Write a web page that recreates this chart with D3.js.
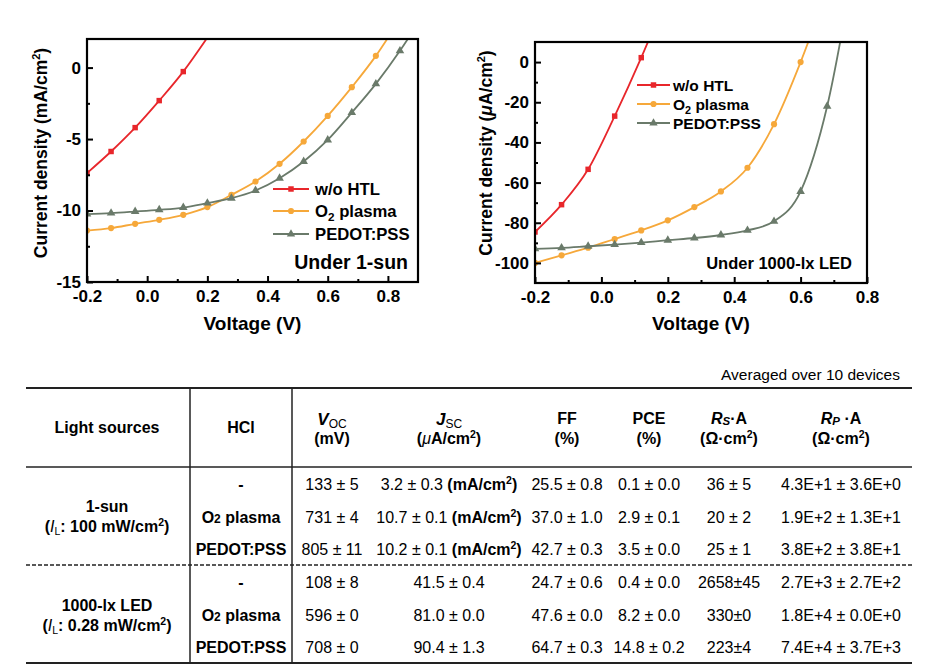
<!DOCTYPE html>
<html><head><meta charset="utf-8">
<script src="https://cdn.jsdelivr.net/npm/d3@7"></script>
<style>body{margin:0;background:#fff} text{font-family:Arial,"Liberation Sans",sans-serif}</style>
</head><body><svg id="c" width="936" height="667"></svg>
<script>
// ---------- DATA ----------
const voltages = [-0.2,-0.12,-0.04,0.04,0.12,0.2,0.28,0.36,0.44,0.52,0.6,0.68,0.76,0.84,0.92];
const seriesNames = ["w/o HTL","O2 plasma","PEDOT:PSS"];
// 1-sun (mA/cm2)
const sunWoHTL = [-7.38,-5.87,-4.2,-2.31,-0.28,2.1];
const sunO2 = [-11.4,-11.23,-10.93,-10.65,-10.3,-9.76,-8.9,-7.97,-6.73,-5.17,-3.38,-1.37,0.82,3.4];
const sunPEDOT = [-10.25,-10.18,-10.07,-9.95,-9.79,-9.48,-9.14,-8.6,-7.74,-6.57,-5.06,-3.15,-1.14,1.17,3.8];
// 1000-lx LED (uA/cm2)
const ledWoHTL = [-84.6,-71.0,-53.4,-26.9,2.2,34];
const ledO2 = [-100,-96.2,-92.4,-88.1,-83.8,-78.8,-72.2,-64.4,-52.6,-30.9,0,36];
const ledPEDOT = [-93.0,-92.5,-91.7,-90.9,-89.9,-88.7,-87.6,-86.1,-83.8,-79.3,-64.4,-22,48];
const sunXTicks = [-0.2,0.0,0.2,0.4,0.6,0.8];
const sunYTicks = [-15,-10,-5,0];
const ledXTicks = [-0.2,0.0,0.2,0.4,0.6,0.8];
const ledYTicks = [-100,-80,-60,-40,-20,0];

// table
const lightSources = ["1-sun","1000-lx LED"];
const lightIntensity = ["100 mW/cm","0.28 mW/cm"];
const hclLabels = ["-","O2 plasma","PEDOT:PSS","-","O2 plasma","PEDOT:PSS"];
const vocVals = ["133 ± 5","731 ± 4","805 ± 11","108 ± 8","596 ± 0","708 ± 0"];
const jscVals = ["3.2 ± 0.3","10.7 ± 0.1","10.2 ± 0.1","41.5 ± 0.4","81.0 ± 0.0","90.4 ± 1.3"];
const jscUnits = ["mA/cm","mA/cm","mA/cm","","",""];
const ffVals = ["25.5 ± 0.8","37.0 ± 1.0","42.7 ± 0.3","24.7 ± 0.6","47.6 ± 0.0","64.7 ± 0.3"];
const pceVals = ["0.1 ± 0.0","2.9 ± 0.1","3.5 ± 0.0","0.4 ± 0.0","8.2 ± 0.0","14.8 ± 0.2"];
const rsVals = ["36 ± 5","20 ± 2","25 ± 1","2658±45","330±0","223±4"];
const rpVals = ["4.3E+1 ± 3.6E+0","1.9E+2 ± 1.3E+1","3.8E+2 ± 3.8E+1","2.7E+3 ± 2.7E+2","1.8E+4 ± 0.0E+0","7.4E+4 ± 3.7E+3"];

// ---------- STYLE ----------
const colors = ["#e8262b","#f6a83a","#6a7a6a"];
const symbols = [d3.symbolSquare, d3.symbolCircle, d3.symbolTriangle];
const svg = d3.select("#c");
svg.append("rect").attr("width",936).attr("height",667).attr("fill","#fff");
const hyph = f => d => f(d).replace("−","-");

function drawPanel(o){
  const g = svg.append("g");
  const x = d3.scaleLinear().domain(o.xDomain).range([o.x0,o.x1]);
  const y = d3.scaleLinear().domain(o.yDomain).range([o.y1,o.y0]);
  const clipId = "clip"+o.id;
  svg.append("clipPath").attr("id",clipId).append("rect")
    .attr("x",o.x0).attr("y",o.y0).attr("width",o.x1-o.x0).attr("height",o.y1-o.y0);
  const plot = g.append("g").attr("clip-path",`url(#${clipId})`);
  const line = d3.line().x(d=>x(d[0])).y(d=>y(d[1])).curve(d3.curveMonotoneX);
  o.series.forEach((s,i)=>{
    const pts = s.map((v,k)=>[voltages[k],v]);
    plot.append("path").attr("d",line(pts)).attr("fill","none")
      .attr("stroke",colors[i]).attr("stroke-width",1.8);
    plot.selectAll(null).data(pts.filter(p=>p[1]<=o.yDomain[1] && p[0]<=o.xDomain[1])).join("path")
      .attr("transform",p=>`translate(${x(p[0])},${y(p[1])})`)
      .attr("d",d3.symbol().type(symbols[i]).size(i===2?32:30))
      .attr("fill",colors[i]);
  });
  // axes
  const ax = g.append("g").attr("transform",`translate(0,${o.y1})`)
    .call(d3.axisBottom(x).tickValues(o.xTicks).tickSize(-6).tickPadding(6).tickFormat(hyph(d3.format(".1f"))));
  const axm = g.append("g").attr("transform",`translate(0,${o.y1})`)
    .call(d3.axisBottom(x).tickValues(o.xMinor).tickSize(-3).tickFormat(""));
  const ay = g.append("g").attr("transform",`translate(${o.x0},0)`)
    .call(d3.axisLeft(y).tickValues(o.yTicks).tickSize(-6).tickPadding(6).tickFormat(hyph(d3.format("d"))));
  const aym = g.append("g").attr("transform",`translate(${o.x0},0)`)
    .call(d3.axisLeft(y).tickValues(o.yMinor).tickSize(-3).tickFormat(""));
  [ax,axm,ay,aym].forEach(a=>{
    a.select(".domain").remove();
    a.selectAll("line").attr("stroke","#000").attr("stroke-width",2);
    a.selectAll("text").attr("font-size",17).attr("font-weight","bold").attr("fill","#000")
      .attr("font-family",'Arial,"Liberation Sans",sans-serif');
  });
  ax.selectAll("text").attr("dy","0.85em");
  g.append("rect").attr("x",o.x0).attr("y",o.y0).attr("width",o.x1-o.x0).attr("height",o.y1-o.y0)
    .attr("fill","none").attr("stroke","#000").attr("stroke-width",2.2);
  // titles
  g.append("text").attr("x",(o.x0+o.x1)/2).attr("y",330).attr("text-anchor","middle")
    .attr("font-size",19).attr("font-weight","bold").text("Voltage (V)");
  const yt = g.append("text").attr("transform",`translate(${o.ytX},${o.ytY}) rotate(-90)`)
    .attr("text-anchor","middle").attr("font-size",17.5).attr("font-weight","bold");
  yt.append("tspan").text(o.yUnitPre);
  if(o.mu){ yt.append("tspan").attr("font-style","italic").text("μ"); }
  yt.append("tspan").text("A/cm");
  yt.append("tspan").attr("font-size",11).attr("dy",-7).text("2");
  yt.append("tspan").attr("dy",7).text(")");
  // legend
  const lg = g.append("g");
  seriesNames.forEach((nm,i)=>{
    const ly = o.legY[i];
    lg.append("line").attr("x1",o.legX0).attr("x2",o.legX1).attr("y1",ly).attr("y2",ly)
      .attr("stroke",colors[i]).attr("stroke-width",1.8);
    lg.append("path").attr("transform",`translate(${(o.legX0+o.legX1)/2},${ly})`)
      .attr("d",d3.symbol().type(symbols[i]).size(30)).attr("fill",colors[i]);
    const t = lg.append("text").attr("x",o.legTx).attr("y",ly+6).attr("font-size",o.legFs).attr("font-weight","bold");
    if(nm==="O2 plasma"){
      t.append("tspan").text("O");
      t.append("tspan").attr("font-size",o.legFs*0.7).attr("dy",4).text("2");
      t.append("tspan").attr("dy",-4).text(" plasma");
    } else t.text(nm);
  });
  g.append("text").attr("x",o.noteX).attr("y",o.noteY).attr("text-anchor","end")
    .attr("font-size",o.noteFs).attr("font-weight","bold").text(o.note);
}

drawPanel({id:"a", x0:87,x1:418,y0:39,y1:282, xDomain:[-0.2,0.9], yDomain:[-15,2],
  xTicks:sunXTicks, xMinor:[-0.1,0.1,0.3,0.5,0.7], yTicks:sunYTicks, yMinor:[-12.5,-7.5,-2.5],
  series:[sunWoHTL,sunO2,sunPEDOT], ytX:47, ytY:153, yUnitPre:"Current density (m", mu:false,
  legY:[189,211,234], legX0:273, legX1:309, legTx:315, legFs:16.7,
  note:"Under 1-sun", noteX:408, noteY:269, noteFs:19.5});
drawPanel({id:"b", x0:535,x1:867,y0:42,y1:283, xDomain:[-0.2,0.8], yDomain:[-110,10],
  xTicks:ledXTicks, xMinor:[-0.1,0.1,0.3,0.5,0.7], yTicks:ledYTicks, yMinor:[-90,-70,-50,-30,-10],
  series:[ledWoHTL,ledO2,ledPEDOT], ytX:492, ytY:153, yUnitPre:"Current density (", mu:true,
  legY:[85,104,123], legX0:637, legX1:670, legTx:673, legFs:15.5,
  note:"Under 1000-lx LED", noteX:852, noteY:269, noteFs:16.5});

// ---------- TABLE ----------
const T = svg.append("g");
const tx0 = 26, tx1 = 912, tTop = 388, tHead = 467, tDash = 565, tBot = 663;
const vLines = [190, 292];
const colX = [107, 241, 332, 449, 567, 649, 729, 841];
const rowY = [484, 517, 549, 582, 615, 647];
T.append("text").attr("x",900).attr("y",380).attr("text-anchor","end").attr("font-size",15.5).text("Averaged over 10 devices");
[[tTop,1.8],[tHead,1.6],[tBot,1.8]].forEach(([yy,w])=>T.append("line").attr("x1",tx0).attr("x2",tx1)
  .attr("y1",yy).attr("y2",yy).attr("stroke","#222").attr("stroke-width",w));
T.append("line").attr("x1",tx0).attr("x2",tx1).attr("y1",tDash).attr("y2",tDash)
  .attr("stroke","#222").attr("stroke-width",1.3).attr("stroke-dasharray","4,2");
vLines.forEach(xx=>T.append("line").attr("x1",xx).attr("x2",xx).attr("y1",tTop).attr("y2",tBot)
  .attr("stroke","#222").attr("stroke-width",1.5));

const hfs = 16;
function htext(xx,yy){ return T.append("text").attr("x",xx).attr("y",yy).attr("text-anchor","middle")
  .attr("font-size",hfs).attr("font-weight","bold"); }
htext(colX[0],433).text("Light sources");
htext(colX[1],433).text("HCl");
let t;
t = htext(colX[2],425); t.append("tspan").attr("font-style","italic").attr("font-size",17).text("V");
  t.append("tspan").attr("font-size",12).attr("font-weight","normal").attr("dy",3).text("OC");
htext(colX[2],444).text("(mV)");
t = htext(colX[3],425); t.append("tspan").attr("font-style","italic").attr("font-size",17).text("J");
  t.append("tspan").attr("font-size",12).attr("font-weight","normal").attr("dy",3).text("SC");
t = htext(colX[3],444); t.append("tspan").text("(");
  t.append("tspan").attr("font-style","italic").attr("font-weight","normal").text("μ");
  t.append("tspan").text("A/cm"); t.append("tspan").attr("font-size",10.5).attr("dy",-6).text("2");
  t.append("tspan").attr("dy",6).text(")");
htext(colX[4],424).text("FF"); htext(colX[4],444).text("(%)");
htext(colX[5],424).text("PCE"); htext(colX[5],444).text("(%)");
t = htext(colX[6],424); t.append("tspan").attr("font-style","italic").text("R");
  t.append("tspan").attr("font-style","italic").attr("font-size",11.5).attr("dy",1).text("S");
  t.append("tspan").attr("dy",-1).text("·A");
t = htext(colX[6],444); t.append("tspan").text("(Ω·cm"); t.append("tspan").attr("font-size",10.5).attr("dy",-6).text("2");
  t.append("tspan").attr("dy",6).text(")");
t = htext(colX[7],424); t.append("tspan").attr("font-style","italic").text("R");
  t.append("tspan").attr("font-style","italic").attr("font-size",11.5).attr("dy",1).text("P");
  t.append("tspan").attr("dy",-1).text(" ·A");
t = htext(colX[7],444); t.append("tspan").text("(Ω·cm"); t.append("tspan").attr("font-size",10.5).attr("dy",-6).text("2");
  t.append("tspan").attr("dy",6).text(")");

// light source group labels
const lsY = [[512,532],[611,631]];
lightSources.forEach((ls,i)=>{
  htext(colX[0],lsY[i][0]).text(ls);
  const tt = htext(colX[0],lsY[i][1]);
  tt.append("tspan").text("(");
  tt.append("tspan").attr("font-style","italic").attr("font-weight","normal").text("I");
  tt.append("tspan").attr("font-size",10.5).attr("font-weight","normal").attr("dy",3).text("L");
  tt.append("tspan").attr("dy",-3).text(": "+lightIntensity[i]);
  tt.append("tspan").attr("font-size",10.5).attr("dy",-6).text("2");
  tt.append("tspan").attr("dy",6).text(")");
});
// rows
const dfs = 16;
function dtext(xx,yy){ return T.append("text").attr("x",xx).attr("y",yy).attr("text-anchor","middle").attr("font-size",dfs); }
rowY.forEach((ry,r)=>{
  const by = ry+5.5;
  const h = htext(colX[1],by);
  if(hclLabels[r]==="O2 plasma"){
    h.append("tspan").text("O"); h.append("tspan").attr("font-size",12).text("2");
    h.append("tspan").text(" plasma");
  } else h.text(hclLabels[r]);
  dtext(colX[2],by).text(vocVals[r]);
  const j = dtext(colX[3],by);
  j.append("tspan").text(jscVals[r]);
  if(jscUnits[r]){
    j.append("tspan").attr("font-weight","bold").text(" ("+jscUnits[r]);
    j.append("tspan").attr("font-weight","bold").attr("font-size",10.5).attr("dy",-6).text("2");
    j.append("tspan").attr("font-weight","bold").attr("dy",6).text(")");
  }
  dtext(colX[4],by).text(ffVals[r]);
  dtext(colX[5],by).text(pceVals[r]);
  dtext(colX[6],by).text(rsVals[r]);
  dtext(colX[7],by).text(rpVals[r]);
});
</script></body></html>
